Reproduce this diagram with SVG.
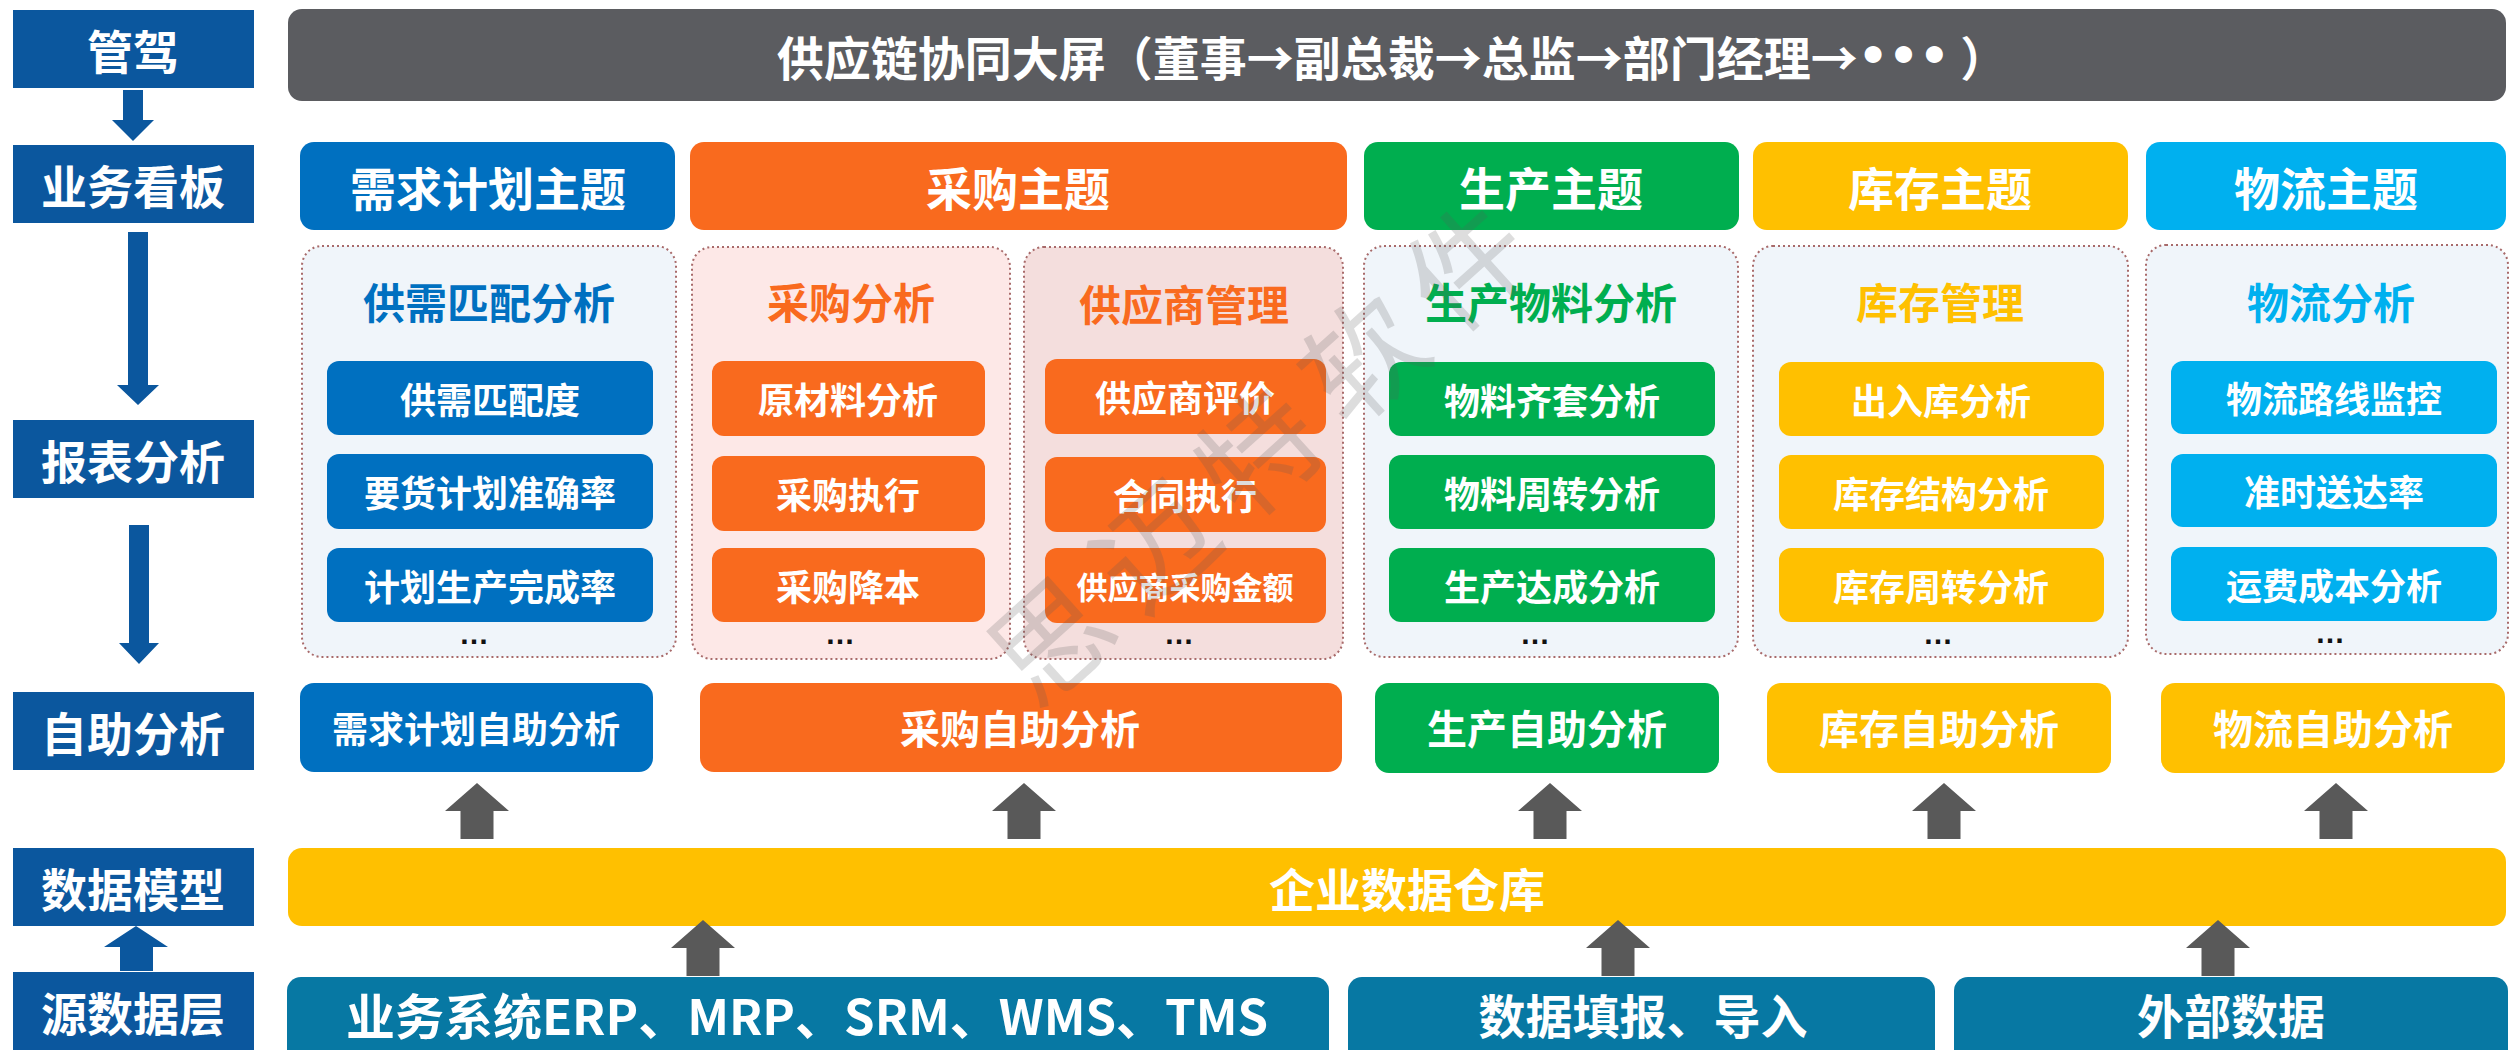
<svg xmlns="http://www.w3.org/2000/svg" width="2511" height="1050" viewBox="0 0 2511 1050">
<defs>
<style>
text{font-family:"Noto Sans CJK SC","Liberation Sans",sans-serif;font-weight:bold;text-anchor:middle;dominant-baseline:central}
.w{fill:#ffffff}
.lab{fill:#0B579E}
.lt{font-size:46px}
.ht{font-size:46px}
.pt{font-size:42px}
.it{font-size:36px}
.st{font-size:40px}
.blue{fill:#0070C0}
.orange{fill:#F96A1E}
.green{fill:#00AE4F}
.yellow{fill:#FFC000}
.cyan{fill:#00B0EF}
.src{fill:#0778A3}
.panel{stroke:#A86A6A;stroke-width:2;stroke-dasharray:2 3}
.pb{fill:#F0F5FA}
.pp{fill:#FDE8E7}
.ps{fill:#F4DEDD}
.dots{font-family:"Liberation Sans",sans-serif;font-size:30px;fill:#111;dominant-baseline:auto}
.bul{font-family:"DejaVu Sans",sans-serif;font-size:48px}
.ga{fill:#595959}
.ba{fill:#0B579E}
.wm{font-family:"Noto Sans CJK SC",sans-serif;font-weight:normal;font-size:118px;letter-spacing:22px;fill:#5a5a5a;opacity:0.2}
</style>
<path id="ua" d="M0,0 L32,28 L16.5,28 L16.5,56 L-16.5,56 L-16.5,28 L-32,28 Z"/>
</defs>
<rect width="2511" height="1050" fill="#ffffff"/>

<!-- left labels -->
<g id="label-guanjia"><rect class="lab" x="13" y="10" width="241" height="78"/><text class="w lt" x="133" y="49">管驾</text></g>
<g id="label-kanban"><rect class="lab" x="13" y="145" width="241" height="78"/><text class="w lt" x="133" y="184">业务看板</text></g>
<g id="label-baobiao"><rect class="lab" x="13" y="420" width="241" height="78"/><text class="w lt" x="133" y="459">报表分析</text></g>
<g id="label-zizhu"><rect class="lab" x="13" y="692" width="241" height="78"/><text class="w lt" x="133" y="731">自助分析</text></g>
<g id="label-moxing"><rect class="lab" x="13" y="848" width="241" height="78"/><text class="w lt" x="133" y="887">数据模型</text></g>
<g id="label-yuan"><rect class="lab" x="13" y="972" width="241" height="78"/><text class="w lt" x="133" y="1011">源数据层</text></g>

<!-- top bar -->
<g id="top-bar"><rect x="288" y="9" width="2218" height="92" rx="14" fill="#5B5C60"/><text class="w" x="1392" y="55" font-size="47">供应链协同大屏（董事→副总裁→总监→部门经理→<tspan class="bul">•••</tspan> ）</text></g>

<!-- theme headers -->
<g id="theme-demand"><rect class="blue" x="300" y="142" width="375" height="88" rx="14"/><text class="w ht" x="488" y="186">需求计划主题</text></g>
<g id="theme-purchase"><rect class="orange" x="690" y="142" width="657" height="88" rx="14"/><text class="w ht" x="1018" y="186">采购主题</text></g>
<g id="theme-production"><rect class="green" x="1364" y="142" width="375" height="88" rx="14"/><text class="w ht" x="1551" y="186">生产主题</text></g>
<g id="theme-inventory"><rect class="yellow" x="1753" y="142" width="375" height="88" rx="14"/><text class="w ht" x="1940" y="186">库存主题</text></g>
<g id="theme-logistics"><rect class="cyan" x="2146" y="142" width="360" height="88" rx="14"/><text class="w ht" x="2326" y="186">物流主题</text></g>

<!-- panels -->
<g id="panel-demand">
<rect class="panel pb" x="302" y="246" width="374" height="411" rx="20"/>
<text class="pt" x="489" y="300" fill="#0070C0">供需匹配分析</text>
<rect class="blue" x="327" y="361" width="326" height="74" rx="12"/><text class="w it" x="490" y="398">供需匹配度</text>
<rect class="blue" x="327" y="454" width="326" height="75" rx="12"/><text class="w it" x="490" y="491">要货计划准确率</text>
<rect class="blue" x="327" y="548" width="326" height="74" rx="12"/><text class="w it" x="490" y="585">计划生产完成率</text>
<text class="dots" x="474" y="644">…</text>
</g>
<g id="panel-purchase">
<rect class="panel pp" x="692" y="247" width="318" height="412" rx="20"/>
<text class="pt" x="851" y="300" fill="#F96A1E">采购分析</text>
<rect class="orange" x="712" y="361" width="273" height="75" rx="12"/><text class="w it" x="848" y="398">原材料分析</text>
<rect class="orange" x="712" y="456" width="273" height="75" rx="12"/><text class="w it" x="848" y="493">采购执行</text>
<rect class="orange" x="712" y="548" width="273" height="74" rx="12"/><text class="w it" x="848" y="585">采购降本</text>
<text class="dots" x="840" y="644">…</text>
</g>
<g id="panel-supplier">
<rect class="panel ps" x="1024" y="247" width="319" height="412" rx="20"/>
<text class="pt" x="1184" y="302" fill="#F96A1E">供应商管理</text>
<rect class="orange" x="1045" y="359" width="281" height="75" rx="12"/><text class="w it" x="1185" y="396">供应商评价</text>
<rect class="orange" x="1045" y="457" width="281" height="75" rx="12"/><text class="w it" x="1185" y="494">合同执行</text>
<rect class="orange" x="1045" y="548" width="281" height="75" rx="12"/><text class="w" x="1185" y="585" font-size="31">供应商采购金额</text>
<text class="dots" x="1179" y="644">…</text>
</g>
<g id="panel-production">
<rect class="panel pb" x="1364" y="246" width="374" height="411" rx="20"/>
<text class="pt" x="1551" y="300" fill="#00AE4F">生产物料分析</text>
<rect class="green" x="1389" y="362" width="326" height="74" rx="12"/><text class="w it" x="1552" y="399">物料齐套分析</text>
<rect class="green" x="1389" y="455" width="326" height="74" rx="12"/><text class="w it" x="1552" y="492">物料周转分析</text>
<rect class="green" x="1389" y="548" width="326" height="74" rx="12"/><text class="w it" x="1552" y="585">生产达成分析</text>
<text class="dots" x="1535" y="644">…</text>
</g>
<g id="panel-inventory">
<rect class="panel pb" x="1753" y="246" width="375" height="411" rx="20"/>
<text class="pt" x="1940" y="300" fill="#FFC000">库存管理</text>
<rect class="yellow" x="1779" y="362" width="325" height="74" rx="12"/><text class="w it" x="1941" y="399">出入库分析</text>
<rect class="yellow" x="1779" y="455" width="325" height="74" rx="12"/><text class="w it" x="1941" y="492">库存结构分析</text>
<rect class="yellow" x="1779" y="548" width="325" height="74" rx="12"/><text class="w it" x="1941" y="585">库存周转分析</text>
<text class="dots" x="1938" y="644">…</text>
</g>
<g id="panel-logistics">
<rect class="panel pb" x="2146" y="245" width="362" height="409" rx="20"/>
<text class="pt" x="2331" y="300" fill="#00B0EF">物流分析</text>
<rect class="cyan" x="2171" y="361" width="326" height="73" rx="12"/><text class="w it" x="2334" y="397">物流路线监控</text>
<rect class="cyan" x="2171" y="454" width="326" height="73" rx="12"/><text class="w it" x="2334" y="490">准时送达率</text>
<rect class="cyan" x="2171" y="547" width="326" height="74" rx="12"/><text class="w it" x="2334" y="584">运费成本分析</text>
<text class="dots" x="2330" y="643">…</text>
</g>

<!-- self analysis -->
<g id="self-demand"><rect class="blue" x="300" y="683" width="353" height="89" rx="14"/><text class="w it" x="476" y="727">需求计划自助分析</text></g>
<g id="self-purchase"><rect class="orange" x="700" y="683" width="642" height="89" rx="14"/><text class="w st" x="1020" y="727">采购自助分析</text></g>
<g id="self-production"><rect class="green" x="1375" y="683" width="344" height="90" rx="14"/><text class="w st" x="1547" y="727">生产自助分析</text></g>
<g id="self-inventory"><rect class="yellow" x="1767" y="683" width="344" height="90" rx="14"/><text class="w st" x="1939" y="727">库存自助分析</text></g>
<g id="self-logistics"><rect class="yellow" x="2161" y="683" width="344" height="90" rx="14"/><text class="w st" x="2333" y="727">物流自助分析</text></g>

<!-- warehouse -->
<g id="warehouse"><rect class="yellow" x="288" y="848" width="2218" height="78" rx="14"/><text class="w" x="1407" y="887" font-size="46">企业数据仓库</text></g>

<!-- source -->
<g id="src-business"><rect class="src" x="287" y="977" width="1042" height="95" rx="14"/><text class="w" x="807" y="1013" font-size="49">业务系统ERP、MRP、SRM、WMS、TMS</text></g>
<g id="src-fill"><rect class="src" x="1348" y="977" width="587" height="95" rx="14"/><text class="w" x="1643" y="1013" font-size="47">数据填报、导入</text></g>
<g id="src-external"><rect class="src" x="1954" y="977" width="554" height="95" rx="14"/><text class="w" x="2231" y="1013" font-size="47">外部数据</text></g>

<!-- connectors -->
<g id="connectors">
<polygon class="ba" points="123,90 143,90 143,120 154,120 133,141 112,120 123,120"/>
<polygon class="ba" points="128,232 148,232 148,385 159,385 138,405 117,385 128,385"/>
<polygon class="ba" points="129,525 149,525 149,643 159,643 139,664 119,643 129,643"/>
<polygon class="ba" points="136,926 168,947 153,947 153,971 120,971 120,947 104,947"/>
<use href="#ua" class="ga" x="477" y="783"/>
<use href="#ua" class="ga" x="1024" y="783"/>
<use href="#ua" class="ga" x="1550" y="783"/>
<use href="#ua" class="ga" x="1944" y="783"/>
<use href="#ua" class="ga" x="2336" y="783"/>
<use href="#ua" class="ga" x="703" y="920"/>
<use href="#ua" class="ga" x="1618" y="920"/>
<use href="#ua" class="ga" x="2218" y="920"/>
</g>

<!-- watermark -->
<text class="wm" transform="translate(1262,440) rotate(-42)" x="0" y="0">思迈特软件</text>
</svg>
